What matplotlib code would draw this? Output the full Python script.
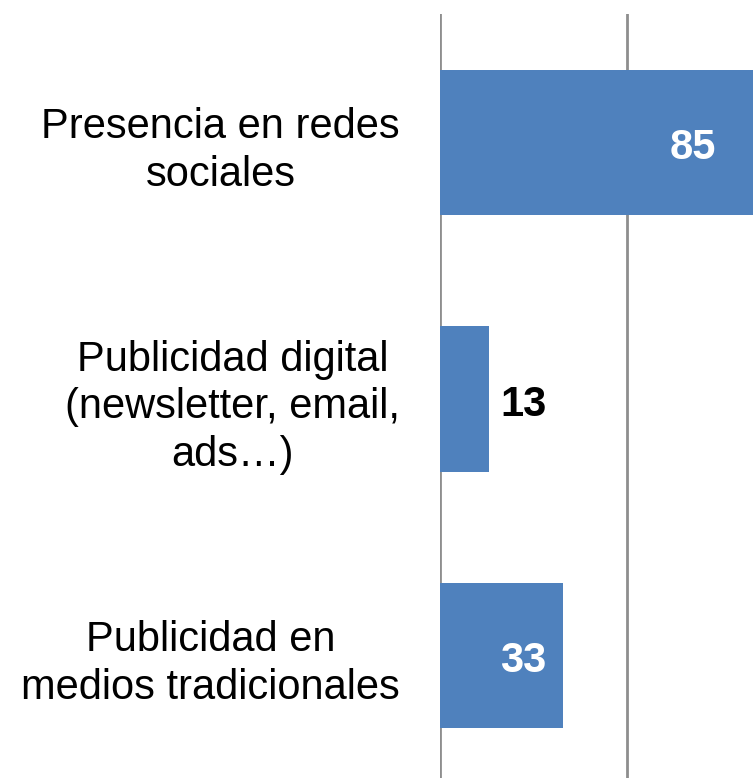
import matplotlib
matplotlib.use("Agg")
import matplotlib.pyplot as plt

categories = ["Presencia en redes\nsociales",
              "Publicidad digital\n(newsletter, email,\nads…)",
              "Publicidad en\nmedios tradicionales"]
values = [85, 13, 33]
grid_ticks = [0, 50, 100]

plt.rcParams['font.family'] = ['Liberation Sans', 'DejaVu Sans']

W, H = 753, 778
fig = plt.figure(figsize=(W / 100, H / 100), dpi=100)
# axes run past the right and bottom edges (chart is cropped)
ax = fig.add_axes([440 / W, -6 / H, 374 / W, 770 / H])

bar_color = "#4F81BD"
ypos = list(range(len(values)))
ax.barh(ypos, values, height=0.565, color=bar_color, zorder=2)

ax.set_xlim(0, 100)
ax.set_ylim(len(values) - 0.5, -0.5)
ax.set_xticks(grid_ticks)
ax.set_xticklabels([])
ax.tick_params(axis='x', length=0)
ax.xaxis.grid(True, color="#8e8e8e", linewidth=2, zorder=0)
ax.set_axisbelow(True)

ax.set_yticks(ypos)
ax.set_yticklabels(categories, fontsize=30, multialignment='center', linespacing=1.25)
ax.tick_params(axis='y', length=0, pad=28.8)

for s in ax.spines.values():
    s.set_visible(False)

# value labels: inside (white) for long bars, outside (black) for short one
offsets_px = [-65, 35, -40]
for y, v, off in zip(ypos, values, offsets_px):
    inside = off < 0
    ax.annotate(str(v), xy=(v, y), xytext=(off * 0.72, -4), textcoords='offset points',
                ha='center', va='center', fontsize=30, fontweight='bold',
                color='white' if inside else 'black')

fig.savefig("out.png", dpi=100)
